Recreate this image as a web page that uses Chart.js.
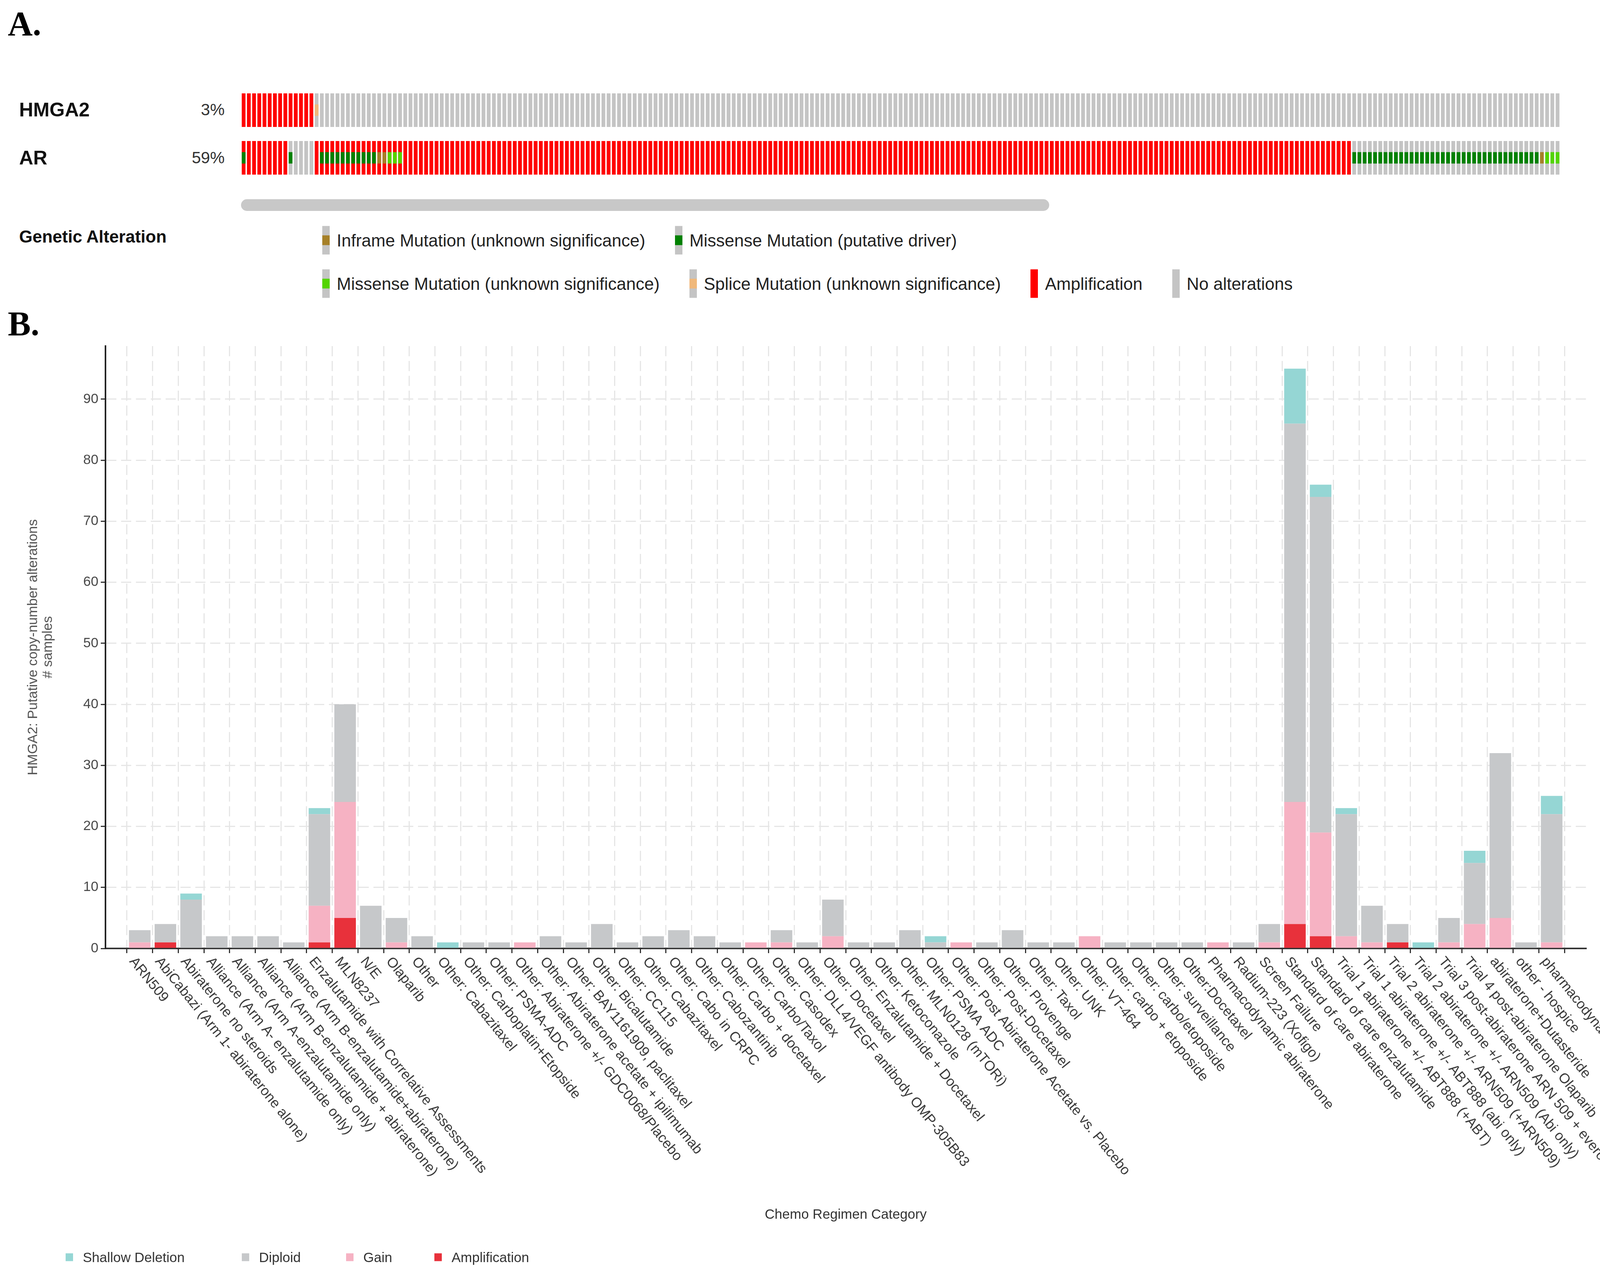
<!DOCTYPE html>
<html>
<head>
<meta charset="utf-8">
<script src="https://cdn.jsdelivr.net/npm/chart.js@4.4.1/dist/chart.umd.min.js"></script>
<style>
  body { margin: 0; width: 4316px; height: 3264px; background: #fff; position: relative; overflow: hidden;
         font-family: "Liberation Sans", Arial, sans-serif; }
  .abs { position: absolute; white-space: nowrap; line-height: 1; }
  .panel { font-family: "Liberation Serif", "Times New Roman", serif; font-weight: bold; font-size: 88px; color: #000; }
  .mid { transform: translateY(-50%); }
  .gene { font-weight: bold; font-size: 50px; color: #111; }
  .pct { font-size: 42px; color: #333; text-align: right; width: 200px; }
  .legA { display: flex; align-items: center; font-size: 44px; color: #222; }
  .legA .item { display: flex; align-items: center; margin-right: 76px; }
  .legA .mark { width: 19px; height: 73px; margin-right: 18px; position: relative; }
  .legA .band { position: absolute; left: 0; width: 19px; top: 24px; height: 25px; }
  .legB { display: flex; align-items: center; font-size: 35px; color: #333; }
  .legB .item { display: flex; align-items: center; }
  .legB .sq { width: 19px; height: 20px; margin-right: 25px; }
</style>
</head>
<body>
<div class="abs panel" style="left:20px; top:17px;">A.</div>
<div class="abs panel" style="left:20px; top:785px;">B.</div>

<div id="trackLabels"></div>
<canvas id="onco" width="3377" height="208" style="position:absolute; left:617px; top:239px; width:3377px; height:208px;"></canvas>
<div class="abs" style="left:617px; top:510px; width:2069px; height:30px; border-radius:15px; background:#c8c8c8;"></div>
<div class="abs gene mid" style="left:49px; top:606px; font-size:44px;">Genetic Alteration</div>
<div id="legendA"></div>

<canvas id="cna" width="4316" height="2464" style="position:absolute; left:0; top:800px; width:4316px; height:2464px;"></canvas>
<div id="legendB" class="abs legB mid" style="left:168px; top:3218px;"></div>

<script>
// ---------- A. oncoprint ----------
const oncoGenes = ['HMGA2', 'AR'];
const oncoPercent = ['3%', '59%'];
// runs of [state, number of samples], left to right
const hmga2Cna = [['amp', 14], ['none', 239]];
const hmga2Mut = [['-', 14], ['splice', 1], ['-', 238]];
const arCna = [['amp', 9], ['none', 5], ['amp', 199], ['none', 40]];
const arMut = [['driver', 1], ['-', 8], ['driver', 1], ['-', 5], ['driver', 11], ['inframe', 2], ['vus', 3],
               ['-', 182], ['driver', 36], ['inframe', 1], ['vus', 3]];

const alterationNames = ['Inframe Mutation (unknown significance)', 'Missense Mutation (putative driver)',
  'Missense Mutation (unknown significance)', 'Splice Mutation (unknown significance)', 'Amplification', 'No alterations'];
const alterationKeys = ['inframe', 'driver', 'vus', 'splice', 'amp', 'none'];
const alterationColors = { inframe: '#a68028', driver: '#008000', vus: '#53d400', splice: '#f0b87b', amp: '#ff0000', none: '#c4c4c4' };

function expandRuns(runs) {
  const out = [];
  runs.forEach(([state, n]) => { for (let i = 0; i < n; i++) out.push(state); });
  return out;
}

const hmga2CnaCols = expandRuns(hmga2Cna);
const hmga2MutCols = expandRuns(hmga2Mut);
const arCnaCols = expandRuns(arCna);
const arMutCols = expandRuns(arMut);
const sampleIds = hmga2CnaCols.map((_, i) => 'S' + (i + 1));

// track bands on the y scale: AR 0..1, HMGA2 1.42..2.42, mutations in the middle third
const rowHmga2 = [1.42, 2.42], rowAr = [0, 1];
const mutHmga2 = [1.75, 2.09], mutAr = [0.33, 0.67];

function trackDataset(cols, band, order) {
  return {
    data: cols.map(() => band),
    backgroundColor: cols.map(s => alterationColors[s]),
    grouped: false, order: order, borderWidth: 0,
    barPercentage: 0.72, categoryPercentage: 1
  };
}
function mutDataset(cols, band) {
  return {
    data: cols.map(s => (s === '-' ? null : band)),
    backgroundColor: cols.map(s => (s === '-' ? 'rgba(0,0,0,0)' : alterationColors[s])),
    grouped: false, order: 1, borderWidth: 0,
    barPercentage: 0.72, categoryPercentage: 1
  };
}

new Chart(document.getElementById('onco'), {
  type: 'bar',
  data: {
    labels: sampleIds,
    datasets: [
      trackDataset(hmga2CnaCols, rowHmga2, 2),
      trackDataset(arCnaCols, rowAr, 2),
      mutDataset(hmga2MutCols, mutHmga2),
      mutDataset(arMutCols, mutAr)
    ]
  },
  options: {
    responsive: false, devicePixelRatio: 1, animation: false,
    layout: { padding: 0 },
    plugins: { legend: { display: false }, tooltip: { enabled: false } },
    scales: {
      x: { display: false, offset: true },
      y: { display: false, min: 0, max: 2.42 }
    }
  }
});

// track labels
const trackCenters = [281, 404];
let trackHtml = '';
oncoGenes.forEach((g, i) => {
  trackHtml += `<div class="abs gene mid" style="left:49px; top:${trackCenters[i]}px;">${g}</div>`;
  trackHtml += `<div class="abs pct mid" style="left:375px; top:${trackCenters[i]}px;">${oncoPercent[i]}</div>`;
});
document.getElementById('trackLabels').innerHTML = trackHtml;

// genetic alteration legend, two rows
function legendItem(k, name) {
  const isMut = !(k === 'amp' || k === 'none');
  const inner = isMut ? `<div class="band" style="background:${alterationColors[k]}"></div>` : '';
  const bg = isMut ? alterationColors.none : alterationColors[k];
  return `<div class="item"><div class="mark" style="background:${bg}">${inner}</div>${name}</div>`;
}
const rowsA = [[0, 1], [2, 3, 4, 5]];
const rowYs = [615, 726];
let legA = '';
rowsA.forEach((idx, r) => {
  legA += `<div class="abs legA mid" style="left:825px; top:${rowYs[r]}px;">` +
    idx.map(i => legendItem(alterationKeys[i], alterationNames[i])).join('') + '</div>';
});
document.getElementById('legendA').innerHTML = legA;

// ---------- B. copy-number by regimen ----------
const regimens = [
  'ARN509', 'AbiCabazi (Arm 1- abiraterone alone)', 'Abiraterone no steroids',
  'Alliance (Arm A- enzalutamide only)', 'Alliance (Arm A-enzalutamide only)',
  'Alliance (Arm B-enzalutamide + abiraterone)', 'Alliance (Arm B-enzalutamide+abiraterone)',
  'Enzalutamide with Correlative Assessments', 'MLN8237', 'N/E', 'Olaparib', 'Other',
  'Other: Cabazitaxel', 'Other: Carboplatin+Etopside', 'Other: PSMA-ADC',
  'Other: Abiraterone +/- GDC0068/Placebo', 'Other: Abiraterone acetate + ipilimumab',
  'Other: BAY1161909, paclitaxel', 'Other: Bicalutamide', 'Other: CC115', 'Other: Cabazitaxel',
  'Other: Cabo in CRPC', 'Other: Cabozantinib', 'Other: Carbo + docetaxel', 'Other: Carbo/Taxol',
  'Other: Casodex', 'Other: DLL4/VEGF antibody OMP-305B83', 'Other: Docetaxel',
  'Other: Enzalutamide + Docetaxel', 'Other: Ketoconazole', 'Other: MLN0128 (mTORi)', 'Other: PSMA ADC',
  'Other: Post Abiraterone Acetate vs. Placebo', 'Other: Post-Docetaxel', 'Other: Provenge', 'Other: Taxol',
  'Other: UNK', 'Other: VT-464', 'Other: carbo + etoposide', 'Other: carbo/etoposide', 'Other: surveillance',
  'Other:Docetaxel', 'Pharmacodynamic abiraterone', 'Radium-223 (Xofigo)', 'Screen Failure',
  'Standard of care abiraterone', 'Standard of care enzalutamide',
  'Trial 1 abiraterone +/- ABT888 (+ABT)', 'Trial 1 abiraterone +/- ABT888 (abi only)',
  'Trial 2 abiraterone +/- ARN509 (+ARN509)', 'Trial 2 abiraterone +/- ARN509 (Abi only)',
  'Trial 3 post-abiraterone ARN 509 + everolimus', 'Trial 4 post-abiraterone Olaparib',
  'abiraterone+Dutasteride', 'other - hospice', 'pharmacodynamic abiraterone'
];
const amplification = [0,1,0,0,0,0,0,1,5,0, 0,0,0,0,0,0,0,0,0,0, 0,0,0,0,0,0,0,0,0,0,
                       0,0,0,0,0,0,0,0,0,0, 0,0,0,0,0,4,2,0,0,1, 0,0,0,0,0,0];
const gain =          [1,0,0,0,0,0,0,6,19,0, 1,0,0,0,0,1,0,0,0,0, 0,0,0,0,1,1,0,2,0,0,
                       0,0,1,0,0,0,0,2,0,0, 0,0,1,0,1,20,17,2,1,0, 0,1,4,5,0,1];
const diploid =       [2,3,8,2,2,2,1,15,16,7, 4,2,0,1,1,0,2,1,4,1, 2,3,2,1,0,2,1,6,1,1,
                       3,1,0,1,3,1,1,0,1,1, 1,1,0,1,3,62,55,20,6,3, 0,4,10,27,1,21];
const shallowDeletion = [0,0,1,0,0,0,0,1,0,0, 0,0,1,0,0,0,0,0,0,0, 0,0,0,0,0,0,0,0,0,0,
                       0,1,0,0,0,0,0,0,0,0, 0,0,0,0,0,9,2,1,0,0, 1,0,2,0,0,3];
const yTicks = [0, 10, 20, 30, 40, 50, 60, 70, 80, 90];

const cnaSeries = ['Amplification', 'Gain', 'Diploid', 'Shallow Deletion'];
const cnaValues = [amplification, gain, diploid, shallowDeletion];
const cnaColors = ['#e8313b', '#f6b2c3', '#c6c8ca', '#95d6d4'];

const gridStyle = { color: '#e6e6e6', lineWidth: 3, tickColor: '#333', tickLength: 12, tickWidth: 3, tickBorderDash: [] };

// x labels hang down to the right of each tick, like ggplot's angled text
const slantLabels = {
  id: 'slantLabels',
  afterDraw(chart) {
    const xs = chart.scales.x;
    const ctx = chart.ctx;
    ctx.save();
    ctx.font = '36px "Liberation Sans", Arial, sans-serif';
    ctx.fillStyle = '#3a3a3a';
    ctx.textAlign = 'left';
    ctx.textBaseline = 'top';
    regimens.forEach((name, i) => {
      ctx.save();
      ctx.translate(xs.getPixelForValue(i) - 6, xs.top + 16);
      ctx.rotate(51 * Math.PI / 180);
      ctx.fillText(name, 0, 0);
      ctx.restore();
    });
    ctx.restore();
  }
};

new Chart(document.getElementById('cna'), {
  type: 'bar',
  data: {
    labels: regimens.map((_, i) => i),
    datasets: cnaSeries.map((name, k) => ({
      label: name,
      data: cnaValues[k],
      backgroundColor: cnaColors[k],
      borderWidth: 0,
      barPercentage: 0.84,
      categoryPercentage: 1
    }))
  },
  options: {
    responsive: false, devicePixelRatio: 1, animation: false,
    layout: { padding: { top: 86, right: 256, bottom: 129, left: 0 } },
    plugins: { legend: { display: false }, tooltip: { enabled: false } },
    scales: {
      x: {
        type: 'linear', stacked: true, min: -0.82, max: regimens.length - 1 + 0.82,
        afterBuildTicks: s => { s.ticks = regimens.map((_, i) => ({ value: i })); },
        afterFit: s => { s.height = 707; },
        ticks: { display: false },
        grid: gridStyle,
        border: { color: '#333', width: 4, dash: [26, 12] },
        title: { display: true, text: 'Chemo Regimen Category', color: '#333',
                 font: { family: '"Liberation Sans", Arial, sans-serif', size: 35 }, padding: { top: 0, bottom: 4 } }
      },
      y: {
        stacked: true, min: 0, max: 98.7,
        afterBuildTicks: s => { s.ticks = yTicks.map(v => ({ value: v })); },
        afterFit: s => { s.width = 270; },
        ticks: { color: '#4a4a4a', padding: 6, font: { family: '"Liberation Sans", Arial, sans-serif', size: 35 } },
        grid: gridStyle,
        border: { color: '#222', width: 4, dash: [26, 12] },
        title: { display: true, text: ['HMGA2: Putative copy-number alterations', '# samples'], color: '#555',
                 font: { family: '"Liberation Sans", Arial, sans-serif', size: 35, lineHeight: 1.1 },
                 padding: { top: 66, bottom: 0 } }
      }
    }
  },
  plugins: [slantLabels]
});

// legend for B, same order as the reference key
const legendOrder = [3, 2, 1, 0];
const legendSlots = [451, 267, 226, 260];
document.getElementById('legendB').innerHTML = legendOrder.map((k, j) =>
  `<div class="item" style="width:${legendSlots[j]}px"><div class="sq" style="background:${cnaColors[k]}"></div>${cnaSeries[k]}</div>`
).join('');
</script>
</body>
</html>
